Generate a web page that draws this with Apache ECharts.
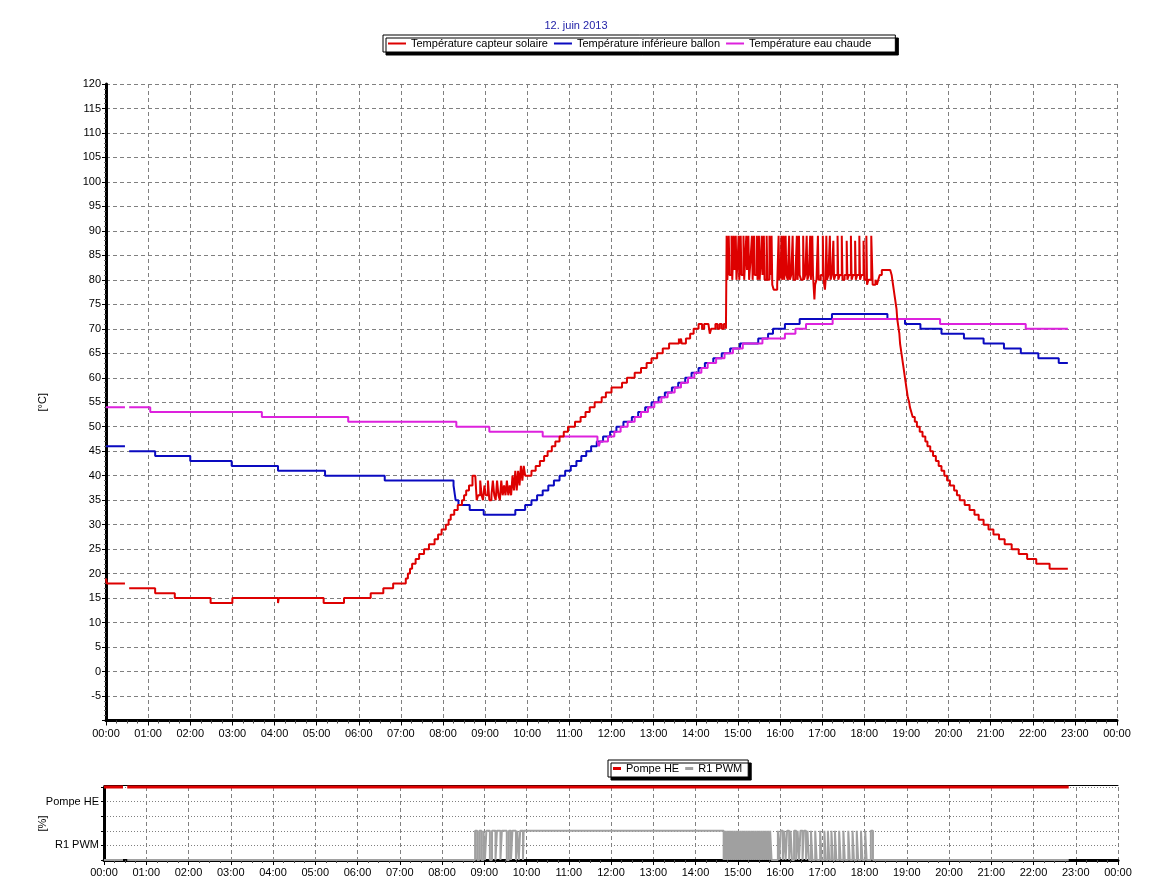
<!DOCTYPE html>
<html><head><meta charset="utf-8">
<script src="https://cdn.jsdelivr.net/npm/echarts@6/dist/echarts.min.js"></script>
<style>html,body{margin:0;padding:0;background:#fff}#c{width:1152px;height:885px}</style>
</head><body><div id="c"></div>
<script>
const titleText = '12. juin 2013';
const seriesNames = ['Température capteur solaire','Température inférieure ballon','Température eau chaude'];
const bottomNames = ['Pompe HE','R1 PWM'];
const bottomLabels = {4:'Pompe HE', 1:'R1 PWM'};

const capteur = [
['00:00',19],['00:01',18],['00:27',18],['00:28',null],['00:33',17],['01:10',16],['01:38',15],['02:29',14],['03:00',15],['04:05',14],['04:06',15],['05:10',14],['05:39',15],['06:17',16],['06:35',17],['06:49',18],['07:07',19],['07:10',20],['07:13',21],['07:16',22],['07:21',23],['07:26',24],['07:33',25],['07:40',26],['07:48',27],['07:53',28],['07:58',29],['08:04',30],['08:08',31],['08:11',32],['08:16',33],['08:21',34],['08:27',35],['08:30',36],['08:33',37],['08:37',38],['08:42',40],
['08:46',40],['08:48',35],['08:50',36],['08:53',39],['08:55',36],['08:57',35],['08:59',38],['09:01',36],['09:04',39],['09:06',35],['09:09',36],['09:11',39],['09:13',36],['09:15',35],['09:17',39],['09:19',36],['09:21',35],['09:23',39],['09:25',36],['09:27',38],['09:29',36],['09:31',39],['09:33',36],['09:35',38],['09:37',36],['09:39',40],['09:41',37],['09:43',41],['09:45',37],['09:47',41],['09:49',38],['09:51',42],['09:53',39],['09:55',42],['09:57',40],
['09:59',40],['10:06',41],['10:12',42],['10:18',43],['10:24',44],['10:29',45],['10:35',46],['10:40',47],['10:46',48],['10:52',49],['10:58',50],['11:08',51],['11:16',52],['11:23',53],['11:29',54],['11:36',55],['11:46',56],['11:52',57],['12:00',58],['12:15',59],['12:22',60],['12:33',61],['12:42',62],['12:50',63],['12:57',64],['13:05',65],['13:13',66],['13:22',67],['13:36',68],['13:37',67],['13:39',68],['13:40',67],['13:46',68],['13:52',69],['13:57',70],['14:04',71],['14:09',70],['14:12',71],['14:18',71],['14:20',69],['14:22',70],['14:28',71],['14:31',70],['14:34',71],['14:37',70],['14:40',71],['14:43',70],
['14:44',89],['14:45',80],['14:46',84],['14:47',89],['14:48',81],['14:51',89],['14:52',80],['14:54',89],['14:55',82],['14:57',89],['14:58',80],['15:00',85],['15:01',89],['15:02',80],['15:04',89],['15:05',81],['15:08',89],['15:09',80],['15:11',86],['15:12',89],['15:13',82],['15:15',89],['15:16',80],['15:18',84],['15:20',89],['15:21',80],['15:23',89],['15:24',81],['15:27',89],['15:28',80],['15:30',89],['15:31',80],['15:33',85],['15:34',89],['15:35',81],['15:37',89],['15:38',80],['15:41',89],['15:42',80],['15:45',89],['15:46',81],['15:48',89],['15:49',79],['15:51',78],['15:56',79],
['15:58',89],['15:59',80],['16:01',81],['16:02',89],['16:03',80],['16:05',89],['16:06',80],['16:08',89],['16:09',81],['16:11',80],['16:13',89],['16:14',80],['16:16',81],['16:18',89],['16:19',80],['16:22',81],['16:24',89],['16:25',80],['16:27',89],['16:28',81],['16:30',80],['16:33',89],['16:34',80],['16:36',81],['16:38',89],['16:39',80],['16:41',81],['16:43',89],['16:44',80],['16:46',89],['16:47',81],['16:49',76],['16:50',79],['16:52',80],['16:54',89],['16:55',80],['16:58',81],['17:01',89],['17:02',80],['17:04',78],['17:05',80],['17:06',89],['17:07',80],['17:09',81],['17:11',89],['17:12',80],['17:14',81],['17:16',88],['17:17',80],['17:19',81],['17:22',89],['17:23',80],['17:25',81],['17:28',89],['17:29',80],['17:32',81],['17:35',88],['17:36',80],['17:38',81],['17:41',89],['17:42',80],['17:44',81],['17:47',88],['17:48',80],['17:50',81],['17:53',89],['17:54',80],['17:56',81],['17:59',88],['18:00',80],['18:03',89],['18:04',79],['18:06',80],['18:08',80],['18:10',89],['18:11',89],['18:12',79],['18:16',80],['18:18',79],['18:20',80],['18:22',81],['18:25',82],
['18:37',82],['18:39',81],['18:40',80],['18:41',79],['18:42',78],['18:43',77],['18:44',76],['18:45',75],['18:46',74],['18:47',72],['18:48',71],['18:49',70],['18:50',69],['18:51',67],['18:52',66],['18:53',65],['18:54',64],['18:55',63],['18:56',62],['18:57',61],['18:58',60],['18:59',59],['19:00',58],['19:01',57],['19:02',56],['19:04',55],['19:05',54],['19:07',53],['19:09',52],['19:12',51],['19:15',50],['19:19',49],['19:23',48],['19:27',47],['19:30',46],['19:34',45],['19:38',44],['19:42',43],['19:46',42],['19:50',41],['19:54',40],['19:58',39],['20:02',38],['20:08',37],['20:12',36],['20:16',35],['20:23',34],['20:30',33],['20:37',32],['20:43',31],['20:50',30],['20:57',29],['21:04',28],['21:12',27],['21:20',26],['21:30',25],['21:40',24],['21:52',23],['22:05',22],['22:24',21],['22:50',21]
];

const ballon = [
['00:00',46],['00:27',46],['00:28',null],['00:33',45],['01:10',44],['02:00',43],['02:59',42],['04:05',41],['05:12',40],['06:37',39],['08:15',38],['08:16',37],['08:17',36],['08:18',35],['08:22',34],['08:38',33],['08:58',32],['09:43',33],['09:57',34],['10:06',35],['10:14',36],['10:22',37],['10:30',38],['10:38',39],['10:46',40],['10:54',41],['11:02',42],['11:10',43],['11:17',44],['11:24',45],['11:31',46],['11:39',47],['11:48',48],['11:58',49],['12:07',50],['12:17',51],['12:29',52],['12:38',53],['12:48',54],['12:57',55],['13:07',56],['13:16',57],['13:26',58],['13:35',59],['13:45',60],['13:54',61],['14:04',62],['14:13',63],['14:25',64],['14:37',65],['14:49',66],['15:03',67],['15:29',68],['15:43',69],['15:50',70],['16:07',71],['16:28',72],['17:14',73],['18:33',72],['18:58',71],['19:20',70],['19:50',69],['20:22',68],['20:50',67],['21:19',66],['21:43',65],['22:08',64],['22:37',63],['22:50',63]
];

const eauChaude = [
['00:00',54],['00:27',54],['00:28',null],['00:33',54],['01:03',53],['03:42',52],['05:45',51],['08:19',50],['09:06',49],['10:22',48],['11:40',47],['11:42',46],['11:44',47],['11:55',48],['12:04',49],['12:13',50],['12:23',51],['12:33',52],['12:42',53],['12:52',54],['13:01',55],['13:11',56],['13:20',57],['13:30',58],['13:39',59],['13:49',60],['13:58',61],['14:08',62],['14:17',63],['14:29',64],['14:41',65],['14:53',66],['15:07',67],['15:35',68],['16:07',69],['16:22',70],['16:37',71],['17:15',72],['19:48',71],['21:50',70],['22:50',70]
];

const pompeHE = [['00:00',5],['00:27',5],['00:28',null],['00:33',5],['22:50',5]];
const pwmLevel = 2;
const pwmOn = [
['08:47','08:50'],['08:53','08:56'],['08:59','09:01'],['09:03','09:08'],['09:11','09:16'],['09:18','09:23'],['09:25','09:32'],['09:35','09:38'],['09:40','09:45'],['09:47','09:49'],['09:51','09:55'],['09:56','14:40'],
['14:41','14:42'],['14:43','14:45'],['14:46','14:48'],['14:49','14:51'],['14:52','14:54'],['14:55','14:57'],['14:58','15:00'],['15:01','15:03'],['15:04','15:06'],['15:07','15:09'],['15:10','15:12'],['15:13','15:15'],['15:16','15:18'],['15:19','15:21'],['15:22','15:24'],['15:25','15:27'],['15:28','15:30'],['15:31','15:33'],['15:34','15:36'],['15:37','15:39'],['15:40','15:42'],['15:43','15:45'],['15:46','15:48'],
['15:57','15:59'],['16:01','16:04'],['16:06','16:08'],['16:10','16:13'],['16:15','16:17'],['16:20','16:23'],['16:25','16:27'],['16:29','16:32'],['16:34','16:37'],['16:39','16:41'],['16:44','16:46'],['16:50','16:52'],['16:57','16:59'],['17:03','17:05'],['17:08','17:10'],['17:13','17:15'],['17:18','17:20'],['17:24','17:26'],['17:30','17:32'],['17:37','17:39'],['17:43','17:45'],['17:49','17:51'],['17:55','17:57'],['18:01','18:03'],['18:09','18:12']
];

const FONT = "'Liberation Sans', Arial, sans-serif";
const parseT = s => { const p = s.split(':').map(Number); return p[0] + p[1] / 60; };
const toXY = arr => arr.map(([t, v]) => [parseT(t), v]);
const pad = n => String(n).padStart(2, '0');
const hourFmt = v => pad(Math.round(v) % 24) + ':00';

const pwmData = [['00:00',0],['00:27',0],['00:28',null],['00:33',0]];
pwmOn.forEach(([s, e]) => { pwmData.push([s, pwmLevel]); pwmData.push([e, 0]); });
pwmData.push(['22:50', 0]);

const gridLine = {show: true, lineStyle: {color: '#808080', type: [4, 3], width: 1}};
const xAxisBase = (gi, margin) => ({
  type: 'value', gridIndex: gi, min: 0, max: 24, interval: 1,
  axisLine: {onZero: false, lineStyle: {color: '#000', width: 3}},
  axisTick: {length: 5, lineStyle: {color: '#000'}},
  minorTick: {show: true, splitNumber: 4, length: 3, lineStyle: {color: '#444'}},
  axisLabel: {formatter: hourFmt, color: '#000', fontSize: 11, fontFamily: FONT, margin: margin, showMinLabel: true, showMaxLabel: true},
  splitLine: gridLine
});

const option = {
  animation: false,
  backgroundColor: '#fff',
  title: {text: titleText, left: 'center', top: 15, textStyle: {color: '#2323a8', fontSize: 11, fontWeight: 'normal', fontFamily: FONT}},
  legend: [
    {data: seriesNames, left: 383, top: 35, icon: 'rect', itemWidth: 18, itemHeight: 2, itemGap: 6,
     padding: [3, 24, 3, 5], borderColor: '#000', borderWidth: 1, backgroundColor: '#fff',
     shadowColor: '#000', shadowOffsetX: 3, shadowOffsetY: 3, shadowBlur: 0,
     textStyle: {fontSize: 11, color: '#000', fontFamily: FONT}},
    {data: bottomNames, left: 608, top: 760, icon: 'rect', itemWidth: 8, itemHeight: 3, itemGap: 6,
     padding: [3, 6, 3, 5], borderColor: '#000', borderWidth: 1, backgroundColor: '#fff',
     shadowColor: '#000', shadowOffsetX: 3, shadowOffsetY: 3, shadowBlur: 0,
     textStyle: {fontSize: 11, color: '#000', fontFamily: FONT}}
  ],
  grid: [
    {left: 106, right: 35, top: 84, bottom: 164.5},
    {left: 104, right: 34, top: 787, bottom: 25}
  ],
  xAxis: [
    xAxisBase(0, 8),
    xAxisBase(1, 7),
    {type: 'value', gridIndex: 1, position: 'top', offset: 2, min: 0, max: 24,
     axisLine: {show: true, onZero: false, lineStyle: {color: '#000', width: 1}},
     axisTick: {show: false}, axisLabel: {show: false}, splitLine: {show: false}}
  ],
  yAxis: [
    {type: 'value', gridIndex: 0, min: -10, max: 120, interval: 5,
     axisLine: {show: true, onZero: false, lineStyle: {color: '#000', width: 3}},
     axisTick: {show: true, length: 4, lineStyle: {color: '#000'}},
     minorTick: {show: true, splitNumber: 5, length: 2, lineStyle: {color: '#666'}},
     axisLabel: {formatter: v => v === -10 ? '' : String(v), color: '#000', fontSize: 11, fontFamily: FONT, margin: 5},
     splitLine: gridLine,
     name: '[°C]', nameLocation: 'middle', nameGap: 58, nameMoveOverlap: false, nameTextStyle: {color: '#000', fontSize: 11, fontFamily: FONT}},
    {type: 'value', gridIndex: 1, min: 0, max: 5, interval: 1,
     axisLine: {show: true, onZero: false, lineStyle: {color: '#000', width: 3}},
     axisTick: {show: true, length: 3, lineStyle: {color: '#000'}},
     axisLabel: {formatter: v => bottomLabels[v] || '', color: '#000', fontSize: 11, fontFamily: FONT, margin: 5},
     splitLine: {show: true, lineStyle: {color: '#808080', type: [1, 2], width: 1}},
     name: '[%]', nameLocation: 'middle', nameGap: 56, nameMoveOverlap: false, nameTextStyle: {color: '#000', fontSize: 11, fontFamily: FONT}}
  ],
  series: [
    {name: seriesNames[0], type: 'line', step: 'end', xAxisIndex: 0, yAxisIndex: 0, data: toXY(capteur), showSymbol: false, symbol: 'none', connectNulls: false, color: '#dd0000', lineStyle: {width: 2, color: '#dd0000'}, z: 3},
    {name: seriesNames[1], type: 'line', step: 'end', xAxisIndex: 0, yAxisIndex: 0, data: toXY(ballon), showSymbol: false, symbol: 'none', connectNulls: false, color: '#0a0ac0', lineStyle: {width: 2, color: '#0a0ac0'}, z: 2},
    {name: seriesNames[2], type: 'line', step: 'end', xAxisIndex: 0, yAxisIndex: 0, data: toXY(eauChaude), showSymbol: false, symbol: 'none', connectNulls: false, color: '#dd22dd', lineStyle: {width: 2, color: '#dd22dd'}, z: 2},
    {name: bottomNames[0], type: 'line', step: 'end', xAxisIndex: 1, yAxisIndex: 1, data: toXY(pompeHE), showSymbol: false, symbol: 'none', connectNulls: false, clip: false, color: '#dd0000', lineStyle: {width: 3, color: '#dd0000'}},
    {name: bottomNames[1], type: 'line', step: 'end', xAxisIndex: 1, yAxisIndex: 1, data: toXY(pwmData), showSymbol: false, symbol: 'none', connectNulls: false, clip: false, color: '#a0a0a0', lineStyle: {width: 2, color: '#a0a0a0'}}
  ]
};
const chart = echarts.init(document.getElementById('c'), null, {renderer: 'canvas'});
chart.setOption(option);
</script></body></html>
